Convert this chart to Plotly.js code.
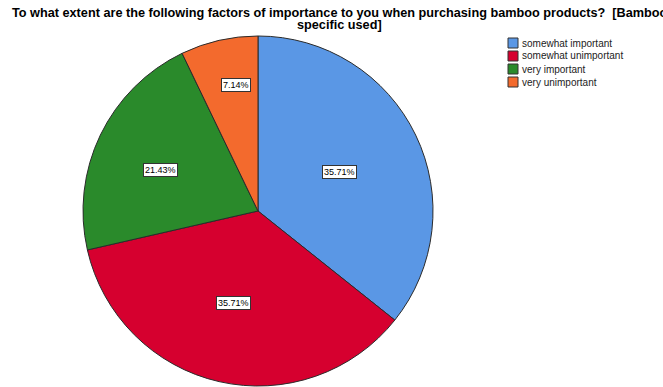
<!DOCTYPE html>
<html>
<head>
<meta charset="utf-8">
<script src="https://cdn.plot.ly/plotly-3.0.1.min.js"></script>
<style>
  html, body { margin: 0; padding: 0; background: #fff; }
  #chart { width: 663px; height: 387px; }
</style>
</head>
<body>
<div id="chart"></div>
<script>
// Responses for "Bamboo specific used"
const categories = ['somewhat important', 'somewhat unimportant', 'very important', 'very unimportant'];
const percents = [35.71, 35.71, 21.43, 7.14];

const sliceColors = ['#5A97E5', '#D6002F', '#2A8A2B', '#F36A2D'];
// placement of each percentage box: fraction of radius and angular nudge (degrees) off the bisector
const labelRadius = [0.52, 0.545, 0.607, 0.73];
const labelNudge = [0, 2, -3, 3];

const W = 663, H = 387;
// pie placement in pixels
const cx = 258, cy = 211, R = 175;
const px = x => x / W;
const py = y => 1 - y / H;
const FONT = 'Liberation Sans, Arial, sans-serif';

const trace = {
  type: 'pie',
  labels: categories,
  values: percents,
  sort: false,
  direction: 'clockwise',
  rotation: 0,
  textinfo: 'none',
  hoverinfo: 'label+percent',
  showlegend: false,
  marker: { colors: sliceColors, line: { color: '#2b2b2b', width: 1 } },
  domain: { x: [px(cx - R), px(cx + R)], y: [py(cy + R), py(cy - R)] }
};

// percentage boxes placed along slice bisectors
const total = percents.reduce((a, b) => a + b, 0);
const annotations = [];
let acc = 0;
percents.forEach((p, i) => {
  const mid = (acc + p / 2) / total * 2 * Math.PI + labelNudge[i] * Math.PI / 180;
  acc += p;
  const d = labelRadius[i] * R;
  const x = cx + d * Math.sin(mid);
  const y = cy - d * Math.cos(mid);
  annotations.push({
    xref: 'paper', yref: 'paper', x: px(x), y: py(y),
    xanchor: 'center', yanchor: 'middle', showarrow: false,
    text: p.toFixed(2) + '%',
    font: { family: FONT, size: 9, color: '#000' },
    bgcolor: '#ffffff', bordercolor: '#333333', borderwidth: 1, borderpad: 1
  });
});

// compact legend on the right
const shapes = [];
const legX = 508, legY = 38, legStep = 13, sw = 10;
categories.forEach((c, i) => {
  const y0 = legY + i * legStep;
  shapes.push({
    type: 'rect', xref: 'paper', yref: 'paper',
    x0: px(legX), x1: px(legX + sw), y0: py(y0 + sw), y1: py(y0),
    fillcolor: sliceColors[i], line: { color: '#333333', width: 1 }
  });
  annotations.push({
    xref: 'paper', yref: 'paper', x: px(legX + sw + 2), y: py(y0 + sw / 2),
    xanchor: 'left', yanchor: 'middle', showarrow: false,
    text: c,
    font: { family: FONT, size: 10, color: '#222' }
  });
});

// tightly stacked two-line title; the first line runs past the right edge
const titleLines = [
  'To what extent are the following factors of importance to you when purchasing bamboo products?  [Bamboo',
  'specific used]'
];
titleLines.forEach((t, i) => {
  annotations.push({
    xref: 'paper', yref: 'paper', x: px(340), y: py(13 + i * 12),
    xanchor: 'center', yanchor: 'middle', showarrow: false,
    text: t,
    font: { family: FONT, size: 12.7, color: '#000', weight: 'bold' }
  });
});

const layout = {
  width: W, height: H,
  margin: { l: 0, r: 0, t: 0, b: 0 },
  paper_bgcolor: '#ffffff',
  showlegend: false,
  annotations: annotations,
  shapes: shapes
};

Plotly.newPlot('chart', [trace], layout, { displayModeBar: false, staticPlot: true });
</script>
</body>
</html>
